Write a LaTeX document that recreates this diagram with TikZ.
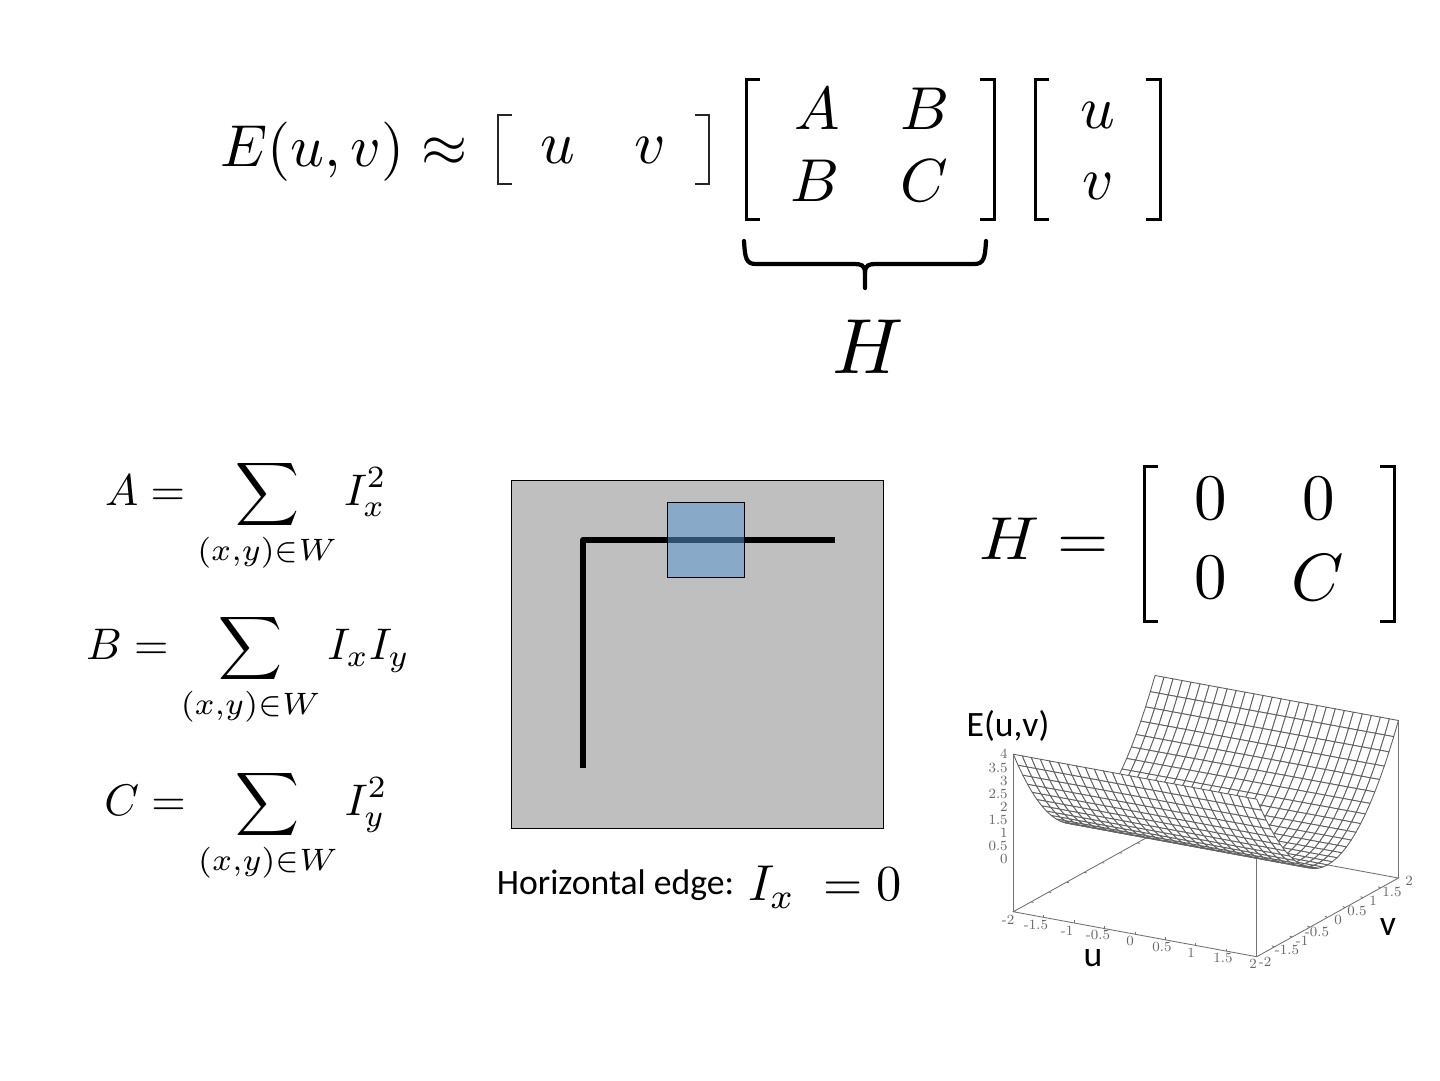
\documentclass[tikz,border=0pt]{standalone}
\usepackage{amsmath,amssymb}
\usepackage{fontspec}
\newfontfamily\labelfont{Carlito}
\usetikzlibrary{positioning,calc}
% surface point: u, v, height v^2
\newcommand{\meshpt}[2]{({1013.3+(#1+2)*60.85+(#2+2)*35.43},{911.7+(#1+2)*11.25-(#2+2)*19.68-(#2*#2+2)*26.25})}
\newcommand{\bracketpair}[5][brk]{%
  \draw[#1] (#2+14,#4) -- (#2,#4) -- (#2,#5) -- (#2+14,#5);
  \draw[#1] (#3-14,#4) -- (#3,#4) -- (#3,#5) -- (#3-14,#5);}

\begin{document}
\begin{tikzpicture}[x=0.02cm,y=-0.02cm,
  brk/.style={draw, line width=1.7pt},
  thinbrk/.style={draw=black!85, line width=1.3pt},
  eqn/.style={inner sep=0pt, scale=3.45},
  sumeq/.style={inner sep=0pt, scale=2.52},
  txt/.style={inner sep=0pt, font=\labelfont\fontsize{20.3}{22}\selectfont},
  axisline/.style={draw=black!55, line width=0.5pt},
  meshcell/.style={draw=black!62, fill=white, line width=0.5pt, line join=round},
  ticklbl/.style={inner sep=0pt, text=black!60, font=\fontsize{8}{9}\selectfont}]
  \useasboundingbox (0,0) rectangle (1440,1080);

  % top equation
  \node[inner sep=0pt, scale=3.37] (energy) at (344,152) {$E(u,v) \approx$};
  \bracketpair[thinbrk]{498}{709}{115}{184}
  \node[eqn] (ru) at (558,150) {$u$};
  \node[eqn] (rv) at (650,150) {$v$};
  \bracketpair{746}{994}{79}{219}
  \node[eqn] (ma) at (817,109) {$A$};
  \node[eqn] (mb) at (925,109) {$B$};
  \node[eqn] (mc) at (815,181) {$B$};
  \node[eqn] (md) at (924,181) {$C$};
  \bracketpair{1035}{1160}{79}{219}
  \node[eqn] (cu) at (1098,115) {$u$};
  \node[eqn] (cv) at (1098,186) {$v$};

  % brace under the matrix
  \draw[line width=2.4pt, line cap=round] (744,241) .. controls (745,258) and (746,264) .. (756,264)
    -- (854,264) .. controls (861,264) and (865,265) .. (865,273) -- (865,288);
  \draw[line width=2.4pt, line cap=round] (986,241) .. controls (985,258) and (984,264) .. (974,264)
    -- (876,264) .. controls (869,264) and (865,265) .. (865,273);
  \node[inner sep=0pt, scale=4.45] (hlabel) at (868,347) {$H$};

  % sums
  \node[sumeq] (suma) at (246,516) {$\displaystyle A = \sum_{(x,y)\in W} I_x^2$};
  \node[sumeq] (sumb) at (248,670) {$\displaystyle B = \sum_{(x,y)\in W} I_x I_y$};
  \node[sumeq] (sumc) at (246,826) {$\displaystyle C = \sum_{(x,y)\in W} I_y^2$};

  % image patch
  \node[draw, fill=black!25, line width=0.55pt, minimum width=372*0.02cm, minimum height=348*0.02cm, inner sep=0pt] (patch) at (697.5,654) {};
  \coordinate (edgeb) at (583,768);
  \coordinate (edgec) at (583,540);
  \coordinate (edger) at (835,540);
  \draw[line width=3.4pt, line join=round] (edgeb) -- (edgec) -- (edger);
  \definecolor{windowblue}{RGB}{89,151,211}
  \node[draw, fill=windowblue, fill opacity=0.53, line width=0.55pt, minimum width=77*0.02cm, minimum height=75*0.02cm, inner sep=0pt] (window) at (705.5,539.5) {};
  \node[txt] (horiz) at (615.5,885.5) {Horizontal edge:};
  \node[inner sep=0pt, scale=2.87] (ixzero) at (825,887) {$I_x\;= 0$};

  % H for the edge
  \node[inner sep=0pt, xscale=3.75, yscale=3.45] (hedge) at (1044,539) {$H =$};
  \bracketpair{1144}{1394}{466}{621}
  \node[inner sep=0pt, scale=3.7] (za) at (1210.5,499) {$0$};
  \node[inner sep=0pt, scale=3.7] (zb) at (1318.5,499) {$0$};
  \node[inner sep=0pt, scale=3.7] (zc) at (1210.5,578) {$0$};
  \node[inner sep=0pt, scale=3.8] (zd) at (1318,578) {$C$};

  % surface plot
  \coordinate (base00) at (1013.3,911.7);
  \coordinate (base10) at (1256.7,956.7);
  \coordinate (base11) at (1398.4,878);
  \coordinate (base01) at (1155,833);
  \coordinate (top00) at (1013.3,754.2);
  \coordinate (top10) at (1256.7,799.2);
  \coordinate (top11) at (1398.4,720.5);
  \draw[axisline] (base00) -- (base10) -- (base11) -- (base01) -- cycle;
  \draw[axisline] (base00) -- (top00);
  \draw[axisline] (base10) -- (top10);
  \draw[axisline] (base11) -- (top11);
  \foreach \i in {1,...,7}{
    \draw[axisline] ($(base00)!\i/8!(base10)$) -- ++(0,-2.5);
    \draw[axisline] ($(base10)!\i/8!(base11)$) -- ++(-2.5,-1);
    \draw[axisline] ($(base00)!\i/8!(base01)$) -- ++(2.5,0.5);
  }
  \foreach \j in {0,...,29}{
    \pgfmathsetmacro{\va}{2-\j*4/30}
    \pgfmathsetmacro{\vb}{2-(\j+1)*4/30}
    \foreach \i in {0,...,26}{
      \pgfmathsetmacro{\ua}{-2+\i*4/27}
      \pgfmathsetmacro{\ub}{-2+(\i+1)*4/27}
      \draw[meshcell] \meshpt{\ua}{\va} -- \meshpt{\ub}{\va} -- \meshpt{\ub}{\vb} -- \meshpt{\ua}{\vb} -- cycle;
    }
  }
  \foreach \z/\y/\n in {0/859/za,0.5/846/zb,1/833/zc,1.5/820/zd,2/807/ze,2.5/794/zf,3/781/zg,3.5/768/zh,4/754/zi}
    \node[ticklbl, anchor=east] (tick\n) at (1008,\y) {\z};
  \foreach \lbl/\xx/\yy/\n in {-2/1008/920/a,-1.5/1036/925/b,-1/1067/931/c,-0.5/1098/935/d,0/1130/941/e,0.5/1162/947/f,1/1191/953/g,1.5/1223/958/h,2/1253/964/i}
    \node[ticklbl] (ulbl\n) at (\xx,\yy) {\lbl};
  \foreach \lbl/\xx/\yy/\n in {-2/1265/962/a,-1.5/1287/950/b,-1/1302/941/c,-0.5/1317/932/d,0/1338/920/e,0.5/1357/911/f,1/1373/901/g,1.5/1392/892/h,2/1409/881/i}
    \node[ticklbl] (vlbl\n) at (\xx,\yy) {\lbl};
  \node[txt] (elabel) at (1008,725.5) {E(u,v)};
  \node[txt] (ulabel) at (1093,958) {u};
  \node[txt] (vlabel) at (1388,927) {v};
\end{tikzpicture}
\end{document}
